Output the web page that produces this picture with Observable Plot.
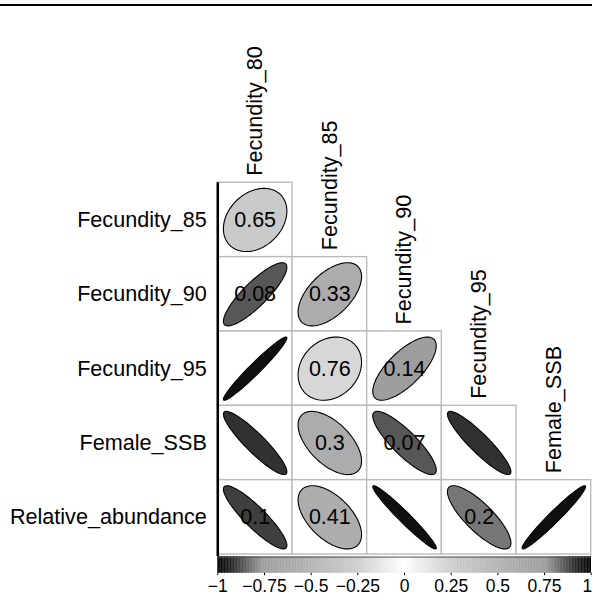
<!DOCTYPE html>
<html><head><meta charset="utf-8">
<script src="https://cdn.jsdelivr.net/npm/d3@7"></script>
<script src="https://cdn.jsdelivr.net/npm/@observablehq/plot@0.6"></script>
<style>
html,body{margin:0;padding:0;background:#fff;}
#chart{position:absolute;left:0;top:0;}
#topline{position:absolute;left:0;top:4px;width:592px;height:2px;background:#000;}
</style></head><body>
<div id="chart"></div><div id="topline"></div>
<script>
// Variables
const rowVars = ["Fecundity_85","Fecundity_90","Fecundity_95","Female_SSB","Relative_abundance"];
const colVars = ["Fecundity_80","Fecundity_85","Fecundity_90","Fecundity_95","Female_SSB"];
// Correlations (lower triangle, row by row) estimated from ellipse shape and shade
const corrValues = [
  [0.28],
  [0.855, 0.56],
  [0.97, 0.2, 0.72],
  [-0.91, -0.57, -0.855, -0.91],
  [-0.89, -0.55, -0.97, -0.81, 0.97]
];
// p-values printed in cells (null = not printed)
const pValues = [
  [0.65],
  [0.08, 0.33],
  [null, 0.76, 0.14],
  [null, 0.3, 0.07, null],
  [0.1, 0.41, null, 0.2, null]
];
// Colour legend ticks
const legendTicks = [-1, -0.75, -0.5, -0.25, 0, 0.25, 0.5, 0.75, 1];
// Gray palette stops (|r| -> gray level)
const colorStops = [0, 0.1, 0.25, 0.5, 0.76, 0.85, 0.93, 1];
const grayLevels = [255, 235, 205, 178, 154, 90, 35, 0];

const cells = [];
corrValues.forEach((row, i) => row.forEach((r, j) => cells.push({row: i, col: j, r, p: pValues[i][j], id: i + "-" + j})));

const ellPts = [];
for (const c of cells) {
  const a = Math.acos(c.r);
  for (let k = 0; k < 100; k++) {
    const t = (2 * Math.PI * k) / 100;
    ellPts.push({
      id: c.id, r: c.r,
      x: c.col + 0.5 + 0.85 * Math.cos(t + a / 2) / 2,
      y: c.row + 0.5 - 0.85 * Math.cos(t - a / 2) / 2
    });
  }
}

const domain = [...colorStops.slice(1).reverse().map(v => -v), ...colorStops];
const range = [...grayLevels.slice(1).reverse(), ...grayLevels].map(g => `rgb(${g},${g},${g})`);

const toX = v => (v + 1) * 2.5;
const step = 0.004;
const ramp = d3.range(-1, 1, step);
const fmt = v => (v < 0 ? "\u2212" + Math.abs(v) : String(v));
const inner = legendTicks.slice(0, -1);
const last = legendTicks.slice(-1);

const chart = Plot.plot({
  width: 592, height: 599,
  marginLeft: 0, marginRight: 0, marginTop: 0, marginBottom: 0,
  x: {domain: [0, 5], range: [217.3, 590.7], axis: null},
  y: {domain: [0, 5], range: [182.3, 554], axis: null},
  color: {type: "linear", domain, range, interpolate: "rgb"},
  style: {fontFamily: "'Liberation Sans', Arial, Helvetica, sans-serif", fontSize: "21px", background: "transparent", color: "black"},
  marks: [
    Plot.rect(cells, {x1: "col", x2: d => d.col + 1, y1: "row", y2: d => d.row + 1, fill: "white", stroke: "#bbbbbb", strokeWidth: 1.4}),
    Plot.line(ellPts, {x: "x", y: "y", z: "id", fill: "r", stroke: "black", strokeWidth: 1.1, curve: "linear-closed"}),
    Plot.text(cells.filter(d => d.p != null), {x: d => d.col + 0.5, y: d => d.row + 0.5, text: d => String(d.p), fontSize: 21.5, fill: "black"}),
    Plot.ruleX([0], {y1: 0, y2: 5.03, stroke: "black", strokeWidth: 2.5}),
    Plot.rect(ramp, {x1: v => toX(v), x2: v => toX(v + step) + 0.004, y1: 5.03, y2: 5.252, fill: v => v + step / 2}),
    Plot.ruleY([5.035], {x1: 0, x2: 5, stroke: "#555", strokeWidth: 1}),
    Plot.ruleX(legendTicks, {x: v => toX(v), y1: 5.252, y2: 5.285, stroke: "black", strokeWidth: 1}),
    Plot.text(inner, {x: v => toX(v), y: 5.43, text: fmt, fontSize: 17.5, fill: "black"}),
    Plot.text(last, {x: v => toX(v), y: 5.43, text: fmt, fontSize: 17.5, fill: "black", textAnchor: "end", dx: 1}),
    Plot.text(rowVars, {x: 0, y: (d, i) => i + 0.5, text: d => d, textAnchor: "end", dx: -11, fontSize: 21.6, fill: "black"}),
    Plot.text(colVars, {x: (d, i) => i + 0.5, y: (d, i) => i, text: d => d, rotate: -90, textAnchor: "start", dy: -7, fontSize: 21.6, fill: "black"})
  ]
});
document.getElementById("chart").appendChild(chart);
</script>
</body></html>
